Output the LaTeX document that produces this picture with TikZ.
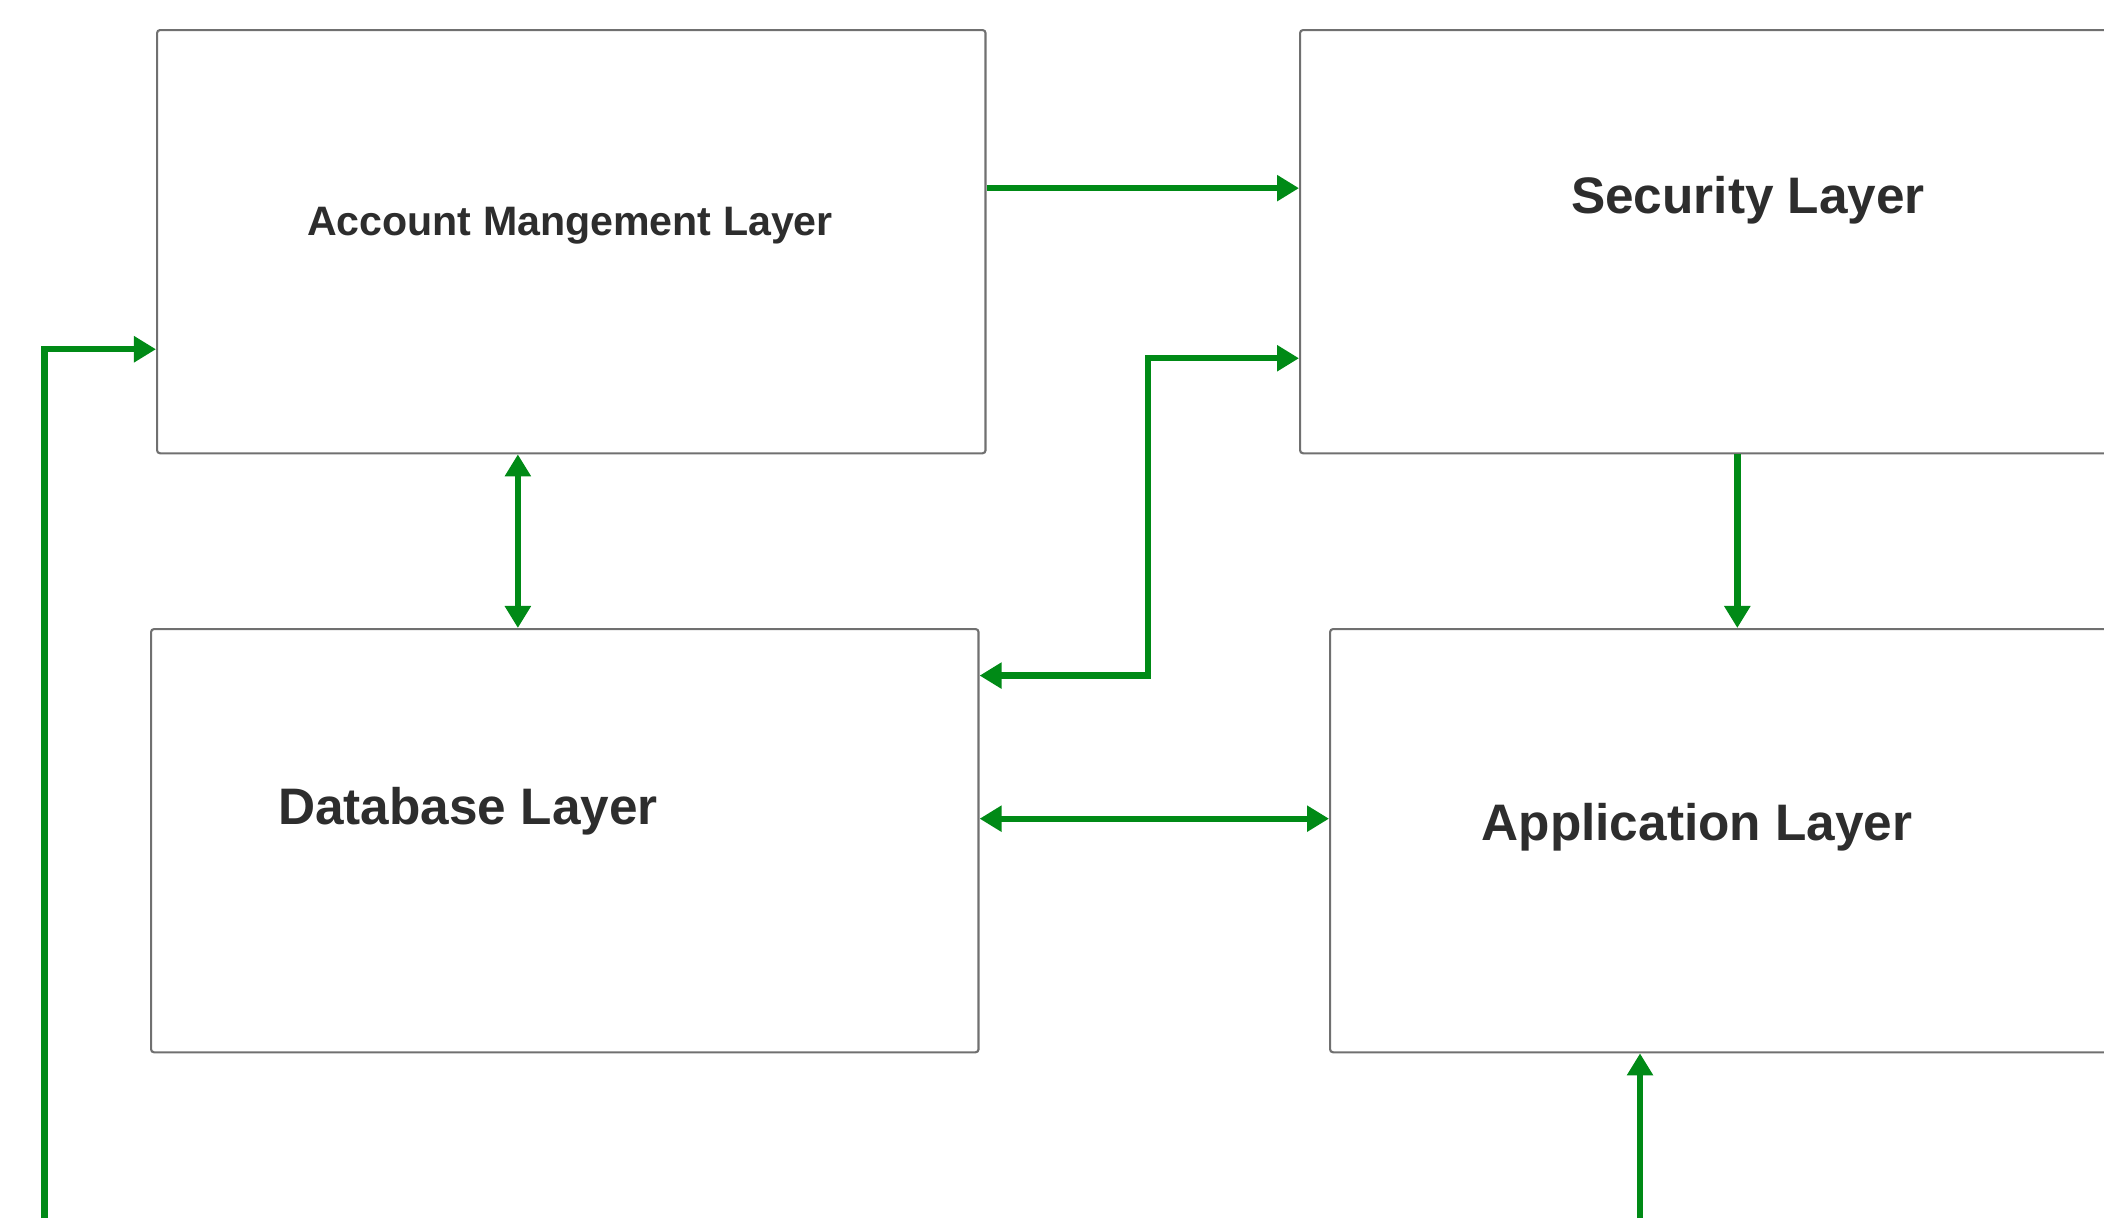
\documentclass[tikz,border=0pt]{standalone}
\usepackage{fontspec}
\setmainfont{Liberation Sans}
\usepackage{tikz}
\usetikzlibrary{arrows.meta}
\definecolor{verde}{RGB}{0,138,22}
\definecolor{bordo}{RGB}{112,112,112}
\definecolor{testo}{RGB}{45,45,45}

\begin{document}
\begin{tikzpicture}[x=0.01cm, y=-0.01cm,
    % Stile dei riquadri dei livelli
    livello/.style={
        draw=bordo,
        line width=0.6pt,
        rounded corners=0.3mm,
        anchor=north west,
        inner sep=0pt
    },
    % Stile dei testi nei riquadri
    etichetta/.style={
        text=testo,
        font=\bfseries\fontsize{14.6}{17}\selectfont,
        anchor=base,
        inner sep=0pt
    },
    % Frecce verdi a una e a due punte
    freccia/.style={
        -{Triangle[length=2.2mm, width=2.5mm]},
        draw=verde,
        line width=1.8pt
    },
    doppia/.style={
        {Triangle[length=2.2mm, width=2.5mm]}-{Triangle[length=2.2mm, width=2.5mm]},
        draw=verde,
        line width=1.8pt
    }
]
\useasboundingbox (0,0) rectangle (2104,1218);
\clip (0,0) rectangle (2104,1218);

% 1. I quattro riquadri
\node [livello, minimum width=8.28cm, minimum height=4.23cm] (account) at (156,29) {};
\node [livello, minimum width=8.74cm, minimum height=4.23cm] (security) at (1299,29) {};
\node [livello, minimum width=8.27cm, minimum height=4.23cm] (database) at (150,628) {};
\node [livello, minimum width=8.71cm, minimum height=4.23cm] (application) at (1329,628) {};

% 2. I testi
\node [etichetta, font=\bfseries\fontsize{11.7}{14}\selectfont] (accountlbl) at (570,235) {Account Mangement Layer};
\node [etichetta] (securitylbl) at (1748,213) {Security Layer};
\node [etichetta] (databaselbl) at (468,824) {Database Layer};
\node [etichetta] (applicationlbl) at (1697,840) {Application Layer};

% 3. Punti di appoggio per le frecce
\coordinate (accout) at ([yshift=5.35mm]account.east);
\coordinate (secin) at ([yshift=5.35mm]security.west);
\coordinate (secback) at ([yshift=-11.65mm]security.west);
\coordinate (dbtop) at ([yshift=16.5mm]database.east);
\coordinate (dbmid) at ([yshift=2.2mm]database.east);
\coordinate (acclink) at ([xshift=-5.34mm]account.south);
\coordinate (accin) at ([yshift=-10.75mm]account.west);
\coordinate (accfeed) at (44.6,1218);
\coordinate (appfeed) at (1640,1218);

% 4. Frecce tra i livelli
\draw [freccia] (accout) -- (secin);
\draw [freccia] (accfeed) |- (accin);
\draw [doppia] (acclink) -- (acclink |- database.north);
\draw [doppia] (dbtop) -- ++(16.8mm,0) |- (secback);
\draw [freccia] (security.south) -- (security.south |- application.north);
\draw [doppia] (dbmid) -- (dbmid -| application.west);
\draw [freccia] (appfeed) -- (appfeed |- application.south);

\end{tikzpicture}
\end{document}
